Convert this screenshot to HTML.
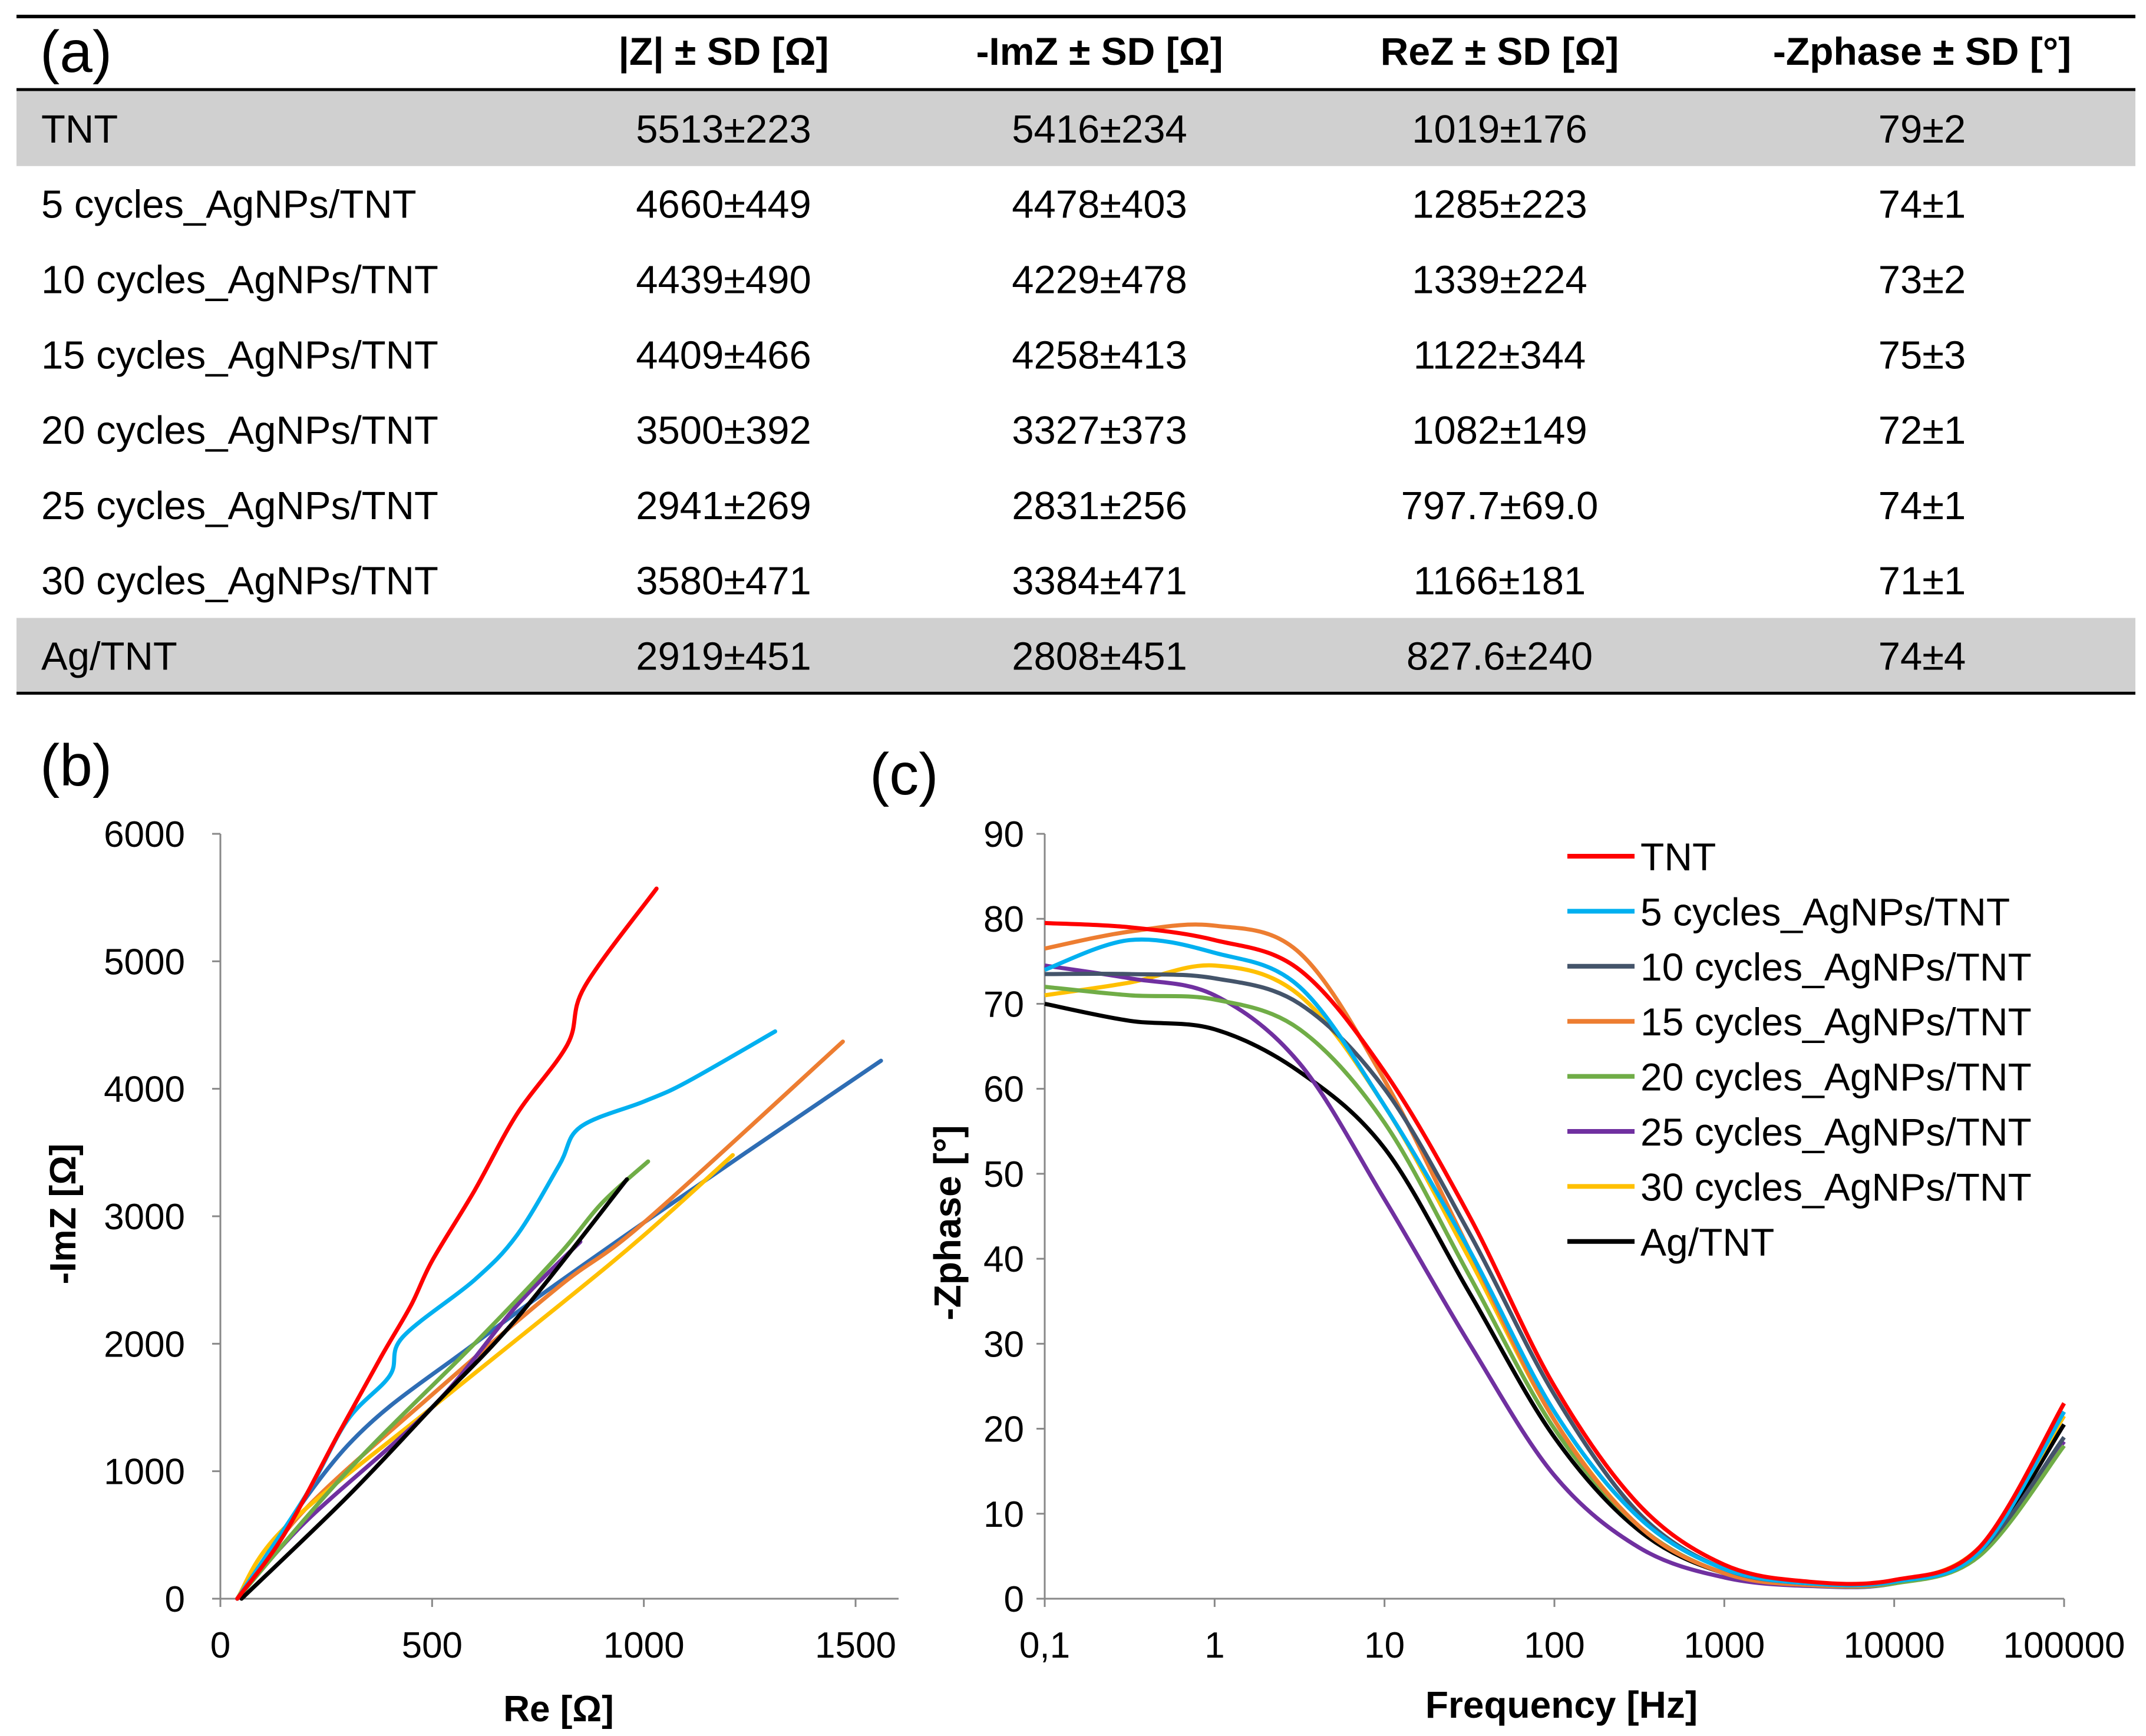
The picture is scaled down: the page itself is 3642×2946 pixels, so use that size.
<!DOCTYPE html>
<html><head><meta charset="utf-8">
<style>
html,body{margin:0;padding:0;background:#fff;}
body{width:3642px;height:2946px;position:relative;overflow:hidden;font-family:"Liberation Sans",sans-serif;}
svg{position:absolute;left:0;top:0;}
</style></head>
<body>
<svg id="fig" width="3642" height="2946" viewBox="0 0 3642 2946"></svg>
<script>
// ---- Table data ----
const tableHeaders = ["|Z| ± SD [Ω]", "-ImZ ± SD [Ω]", "ReZ ± SD [Ω]", "-Zphase ± SD [°]"];
const sampleNames = ["TNT","5 cycles_AgNPs/TNT","10 cycles_AgNPs/TNT","15 cycles_AgNPs/TNT","20 cycles_AgNPs/TNT","25 cycles_AgNPs/TNT","30 cycles_AgNPs/TNT","Ag/TNT"];
const absZ = ["5513±223","4660±449","4439±490","4409±466","3500±392","2941±269","3580±471","2919±451"];
const imZ = ["5416±234","4478±403","4229±478","4258±413","3327±373","2831±256","3384±471","2808±451"];
const reZ = ["1019±176","1285±223","1339±224","1122±344","1082±149","797.7±69.0","1166±181","827.6±240"];
const phaseZ = ["79±2","74±1","73±2","75±3","72±1","74±1","71±1","74±4"];

// ---- Nyquist (b) data ----
const bxTicks = [0,500,1000,1500];
const byTicks = [0,1000,2000,3000,4000,5000,6000];
const nyqTNT_re = [40,150,280,380,450,500,600,700,820,860,1030];
const nyqTNT_im = [0,500,1300,1900,2300,2650,3200,3800,4350,4800,5570];
const nyq5_re = [40,200,300,400,430,600,700,800,850,1000,1100,1310];
const nyq5_im = [0,800,1400,1750,2050,2500,2850,3400,3700,3900,4050,4450];
const nyq10_re = [40,300,600,1000,1560];
const nyq10_im = [0,1200,2000,2950,4220];
const nyq15_re = [40,200,500,800,1000,1470];
const nyq15_im = [0,700,1600,2450,2950,4370];
const nyq20_re = [40,300,600,800,900,1010];
const nyq20_im = [0,1000,2000,2700,3100,3430];
const nyq25_re = [40,200,500,700,850];
const nyq25_im = [0,600,1500,2300,2800];
const nyq30_re = [40,150,500,800,1000,1210];
const nyq30_im = [0,550,1500,2300,2850,3480];
const nyqAg_re = [50,300,500,700,960];
const nyqAg_im = [0,800,1500,2200,3290];

// ---- Bode phase (c) data ----
const cxTickLabels = ["0,1","1","10","100","1000","10000","100000"];
const cyTicks = [0,10,20,30,40,50,60,70,80,90];
const logFreq = [-1,-0.5,0,0.5,1,1.5,2,2.5,3,3.5,4,4.5,5];
const phTNT = [79.5,79,77.5,74,62,45,25,11,4,2,2.2,6,23];
const ph5 = [74,77.5,76,72,58,41,22,9.5,3.5,1.8,2,5.5,22];
const ph10 = [73.5,73.5,73,70,60,43,24,10,3.5,1.8,2,5.5,19];
const ph15 = [76.5,78.5,79.2,76,61,41,21,8.5,3,1.6,2,6,22];
const ph20 = [72,71,70.5,67,56,38,20,8.5,3,1.6,1.8,5,18];
const ph25 = [74.5,73,71,63,47,30,14.5,6,2.5,1.5,1.8,5.5,18.5];
const ph30 = [71,72.5,74.5,71,58,40,21,8.5,3,1.6,2,6,21.5];
const phAg = [70,68,67,62,53,36,19,8,3,1.7,2,5.5,20.5];

const NS="http://www.w3.org/2000/svg";
const svg=document.getElementById('fig');
function mk(tag,attrs,parent){const e=document.createElementNS(NS,tag);for(const k in attrs)e.setAttribute(k,attrs[k]);(parent||svg).appendChild(e);return e;}
function txt(s,x,y,size,opts,parent){opts=opts||{};const t=mk('text',{x:x,y:y,'font-size':size,'font-family':'"Liberation Sans",sans-serif','text-anchor':opts.anchor||'start','font-weight':opts.bold?'bold':'normal',fill:'#000'},parent);if(opts.transform)t.setAttribute('transform',opts.transform);t.textContent=s;return t;}
function smoothPath(pts){
  if(pts.length<2)return '';
  let d='M'+pts[0][0].toFixed(1)+','+pts[0][1].toFixed(1);
  for(let i=0;i<pts.length-1;i++){
    const p0=pts[Math.max(0,i-1)],p1=pts[i],p2=pts[i+1],p3=pts[Math.min(pts.length-1,i+2)];
    const c1=[p1[0]+(p2[0]-p0[0])/6,p1[1]+(p2[1]-p0[1])/6];
    const c2=[p2[0]-(p3[0]-p1[0])/6,p2[1]-(p3[1]-p1[1])/6];
    d+=' C'+c1[0].toFixed(1)+','+c1[1].toFixed(1)+' '+c2[0].toFixed(1)+','+c2[1].toFixed(1)+' '+p2[0].toFixed(1)+','+p2[1].toFixed(1);
  }
  return d;
}

// ===== Table (a) =====
const tbl=mk('g',{});


const L=28,R=3624,rowH=127.8,firstRowTop=154;
const colX=[1228,1866,2545,3262];
mk('rect',{x:L,y:firstRowTop,width:R-L,height:rowH,fill:'#d0d0d0'},tbl);
mk('rect',{x:L,y:firstRowTop+7*rowH,width:R-L,height:rowH,fill:'#d0d0d0'},tbl);
const topLine=mk('line',{x1:L,x2:R,y1:28,y2:28,stroke:'#000','stroke-width':6},tbl);

const midLine=mk('line',{x1:L,x2:R,y1:152,y2:152,stroke:'#000','stroke-width':5},tbl);

const botLine=mk('line',{x1:L,x2:R,y1:firstRowTop+8*rowH,y2:firstRowTop+8*rowH,stroke:'#000','stroke-width':5},tbl);

const lblA=txt('(a)',68,122,100,{},tbl);

tableHeaders.forEach((h,i)=>{const t=txt(h,colX[i],110,66,{anchor:'middle',bold:true},tbl);});
sampleNames.forEach((n,r)=>{
  const y=firstRowTop+r*rowH+rowH/2+24;
  const t=txt(n,70,y,67,{},tbl);
  [absZ,imZ,reZ,phaseZ].forEach((arr,c)=>{const v=txt(arr[r],colX[c],y,67,{anchor:'middle'},tbl);});
});

// ===== Nyquist (b) =====
const gb=mk('g',{});


const bx0=374,bxPer=(1452-374)/1500,by0=2713,byPer=(2713-1415)/6000;
const bX=v=>bx0+v*bxPer, bY=v=>by0-v*byPer;
const lblB=txt('(b)',68,1333,100,{},gb);
mk('line',{x1:bx0,x2:bx0,y1:bY(6000),y2:by0,stroke:'#888','stroke-width':3},gb);
mk('line',{x1:bx0,x2:1525,y1:by0,y2:by0,stroke:'#888','stroke-width':3},gb);
byTicks.forEach(v=>{mk('line',{x1:bx0-14,x2:bx0,y1:bY(v),y2:bY(v),stroke:'#888','stroke-width':3},gb);
  const t=txt(String(v),bx0-60,bY(v)+22,62,{anchor:'end'},gb);});
bxTicks.forEach(v=>{mk('line',{x1:bX(v),x2:bX(v),y1:by0,y2:by0+14,stroke:'#888','stroke-width':3},gb);
  const t=txt(String(v),bX(v),by0+100,62,{anchor:'middle'},gb);});
const xtB=txt('Re [Ω]',948,2921,62,{anchor:'middle',bold:true},gb);
const ytB=txt('-ImZ [Ω]',0,0,62,{anchor:'middle',bold:true,transform:'translate(128,2060) rotate(-90)'},gb);
const nyqSeries=[
 ['nyquist-10-cycles',nyq10_re,nyq10_im,'#2e6db4'],
 ['nyquist-15-cycles',nyq15_re,nyq15_im,'#ed7d31'],
 ['nyquist-30-cycles',nyq30_re,nyq30_im,'#ffc000'],
 ['nyquist-25-cycles',nyq25_re,nyq25_im,'#7030a0'],
 ['nyquist-20-cycles',nyq20_re,nyq20_im,'#70ad47'],
 ['nyquist-ag',nyqAg_re,nyqAg_im,'#000000'],
 ['nyquist-5-cycles',nyq5_re,nyq5_im,'#00b0f0'],
 ['nyquist-tnt',nyqTNT_re,nyqTNT_im,'#ff0000']];
nyqSeries.forEach(s=>{const pts=s[1].map((v,i)=>[bX(v),bY(s[2][i])]);
  const p=mk('path',{d:smoothPath(pts),fill:'none',stroke:s[3],'stroke-width':7,'stroke-linejoin':'round','stroke-linecap':'round'},gb);
  });

// ===== Bode phase (c) =====
const gc=mk('g',{});


const cx0=1773,cxPer=(3503-1773)/6,cy0=2713,cyPer=(2713-1415)/90;
const cX=lf=>cx0+(lf+1)*cxPer, cY=v=>cy0-v*cyPer;
const lblC=txt('(c)',1476,1348,100,{},gc);
mk('line',{x1:cx0,x2:cx0,y1:cY(90),y2:cy0,stroke:'#888','stroke-width':3},gc);
mk('line',{x1:cx0,x2:cX(5),y1:cy0,y2:cy0,stroke:'#888','stroke-width':3},gc);
cyTicks.forEach(v=>{mk('line',{x1:cx0-14,x2:cx0,y1:cY(v),y2:cY(v),stroke:'#888','stroke-width':3},gc);
  const t=txt(String(v),cx0-35,cY(v)+22,62,{anchor:'end'},gc);});
cxTickLabels.forEach((s,i)=>{const x=cX(i-1);mk('line',{x1:x,x2:x,y1:cy0,y2:cy0+14,stroke:'#888','stroke-width':3},gc);
  const t=txt(s,x,cy0+100,62,{anchor:'middle'},gc);});
const xtC=txt('Frequency [Hz]',2650,2915,64,{anchor:'middle',bold:true},gc);
const ytC=txt('-Zphase [°]',0,0,64,{anchor:'middle',bold:true,transform:'translate(1630,2075) rotate(-90)'},gc);
const phSeries=[
 ['TNT',phTNT,'#ff0000'],['5 cycles_AgNPs/TNT',ph5,'#00b0f0'],['10 cycles_AgNPs/TNT',ph10,'#44546a'],
 ['15 cycles_AgNPs/TNT',ph15,'#ed7d31'],['20 cycles_AgNPs/TNT',ph20,'#70ad47'],['25 cycles_AgNPs/TNT',ph25,'#7030a0'],
 ['30 cycles_AgNPs/TNT',ph30,'#ffc000'],['Ag/TNT',phAg,'#000000']];
phSeries.slice().reverse().forEach(s=>{const pts=logFreq.map((lf,i)=>[cX(lf),cY(s[1][i])]);
  const p=mk('path',{d:smoothPath(pts),fill:'none',stroke:s[2],'stroke-width':7,'stroke-linejoin':'round'},gc);
  });
phSeries.forEach((s,i)=>{const y=1453+i*93.4;
  const g=mk('g',{},gc);
  
  
  mk('line',{x1:2660,x2:2774,y1:y,y2:y,stroke:s[2],'stroke-width':8},g);
  txt(s[0],2784,y+24,66,{},g);});
</script>
</body></html>
